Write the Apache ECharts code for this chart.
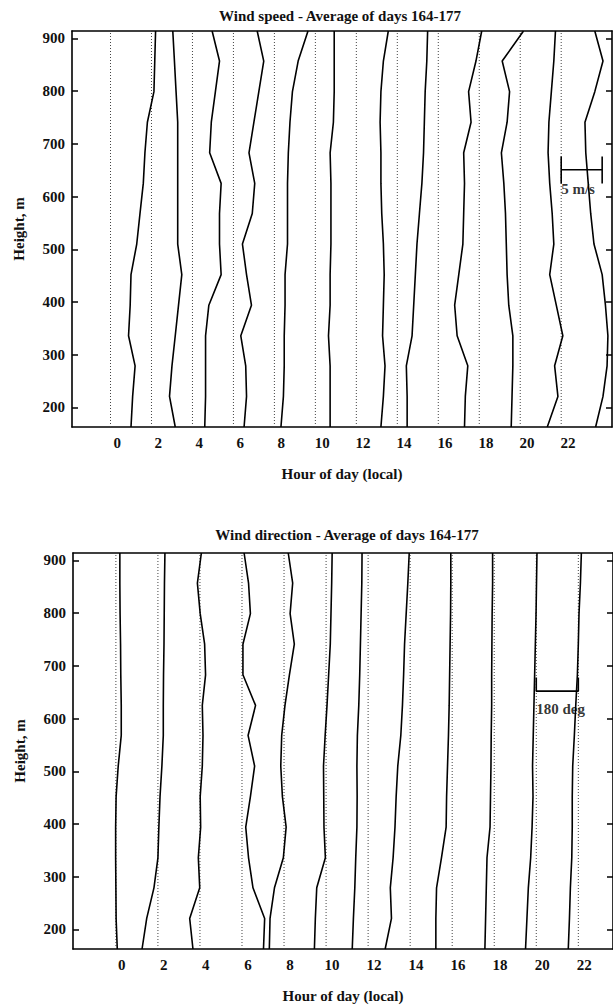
<!DOCTYPE html>
<html>
<head>
<meta charset="utf-8">
<title>Wind profiles</title>
<script src="https://cdn.jsdelivr.net/npm/echarts@6/dist/echarts.min.js"></script>
<style>
  html, body { margin: 0; padding: 0; background: #fff; }
  #chart { width: 613px; height: 1008px; }
</style>
</head>
<body>
<div id="chart"></div>
<script>
// profile levels, m (bottom to top)
var heights = [163, 221, 279, 336, 394, 452, 510, 568, 625, 683, 741, 799, 857, 914];
var hours = [0, 2, 4, 6, 8, 10, 12, 14, 16, 18, 20, 22];
var hourTicks = [0, 2, 4, 6, 8, 10, 12, 14, 16, 18, 20, 22];
var heightTicks = [200, 300, 400, 500, 600, 700, 800, 900];

// wind speed, m/s - one row per hour, values bottom to top
var speed = [
  [2.5, 2.7, 3.0, 2.2, 2.4, 2.5, 3.2, 3.6, 4.0, 4.2, 4.5, 5.3, 5.4, 5.5],
  [2.9, 2.2, 2.5, 2.9, 3.3, 3.7, 3.2, 3.2, 3.2, 3.2, 3.2, 3.0, 2.8, 2.6],
  [1.5, 1.6, 1.6, 1.6, 2.0, 3.5, 3.3, 3.3, 3.5, 2.1, 2.3, 2.8, 3.3, 2.4],
  [1.3, 1.6, 1.5, 0.9, 2.2, 1.6, 1.1, 2.3, 2.6, 1.9, 2.5, 3.1, 3.7, 2.9],
  [0.8, 1.1, 1.2, 1.2, 1.3, 1.3, 1.6, 1.6, 1.6, 1.7, 1.9, 2.2, 2.9, 4.1],
  [1.8, 1.8, 1.8, 1.6, 1.8, 1.8, 1.9, 1.9, 1.9, 1.8, 2.2, 2.3, 2.3, 2.3],
  [3.0, 3.3, 3.5, 3.2, 3.3, 3.4, 3.3, 3.1, 3.0, 3.0, 2.9, 3.0, 3.3, 3.9],
  [1.2, 1.2, 1.1, 1.8, 2.0, 2.2, 2.4, 2.7, 3.0, 3.2, 3.3, 3.4, 3.6, 3.7],
  [3.2, 3.3, 3.6, 2.3, 2.0, 2.5, 3.0, 3.1, 3.2, 3.1, 4.0, 3.7, 4.6, 5.3],
  [3.9, 4.0, 4.1, 4.1, 3.6, 3.4, 3.3, 3.2, 3.0, 2.7, 3.4, 3.7, 2.8, 5.4],
  [3.3, 4.6, 4.2, 5.2, 4.4, 3.6, 4.1, 3.9, 3.6, 3.4, 3.5, 3.8, 4.1, 4.3],
  [4.2, 5.1, 5.6, 5.7, 5.4, 5.0, 4.0, 3.6, 3.3, 3.0, 2.9, 4.1, 5.1, 4.1]
];

// wind direction departure, deg - one row per hour, values bottom to top
var direction = [
  [6, 1, 0, -1, -1, 1, 10, 23, 23, 21, 20, 18, 17, 17],
  [-68, -48, -17, 0, 4, 9, 17, 23, 23, 24, 26, 27, 28, 30],
  [-30, -44, -1, -7, 3, 1, 10, 13, 10, 24, 20, 1, -11, 6],
  [92, 97, 47, 28, 16, 36, 54, 26, 58, 4, 4, 36, 28, 9],
  [-63, -60, -41, -3, 9, -7, -14, -10, 4, 23, 44, 26, 37, 18],
  [-50, -46, -40, -3, -9, -10, -11, -4, 4, 11, 18, 21, 24, 26],
  [-68, -63, -57, -53, -48, -47, -48, -46, -40, -36, -33, -30, -27, -26],
  [-107, -80, -85, -73, -65, -60, -53, -40, -33, -28, -24, -17, -10, -4],
  [-70, -70, -67, -46, -26, -24, -20, -16, -13, -11, -9, -7, -6, -6],
  [-40, -37, -34, -31, -18, -16, -14, -13, -11, -11, -10, -9, -7, -7],
  [-46, -40, -34, -24, -18, -14, -16, -13, -10, -7, -4, -1, 1, 3],
  [-43, -38, -34, -28, -26, -26, -24, -17, -11, -4, 0, 3, 9, 13]
];

var speedBar = 5;     // m/s shown by the scale bar
var dirBar = 180;     // deg shown by the scale bar
var hoursPerSpeed = 2 / 5;    // 5 m/s spans two hours
var hoursPerDeg = 2 / 180;    // 180 deg spans two hours
var shiftTop = -0.33;
var shiftBot = -0.28;
var xRangeTop = [-2.21, 24.15];
var xRangeBot = [-2.32, 23.37];
var yRange = [163, 914];

var font = 'Liberation Serif, Times New Roman, serif';
var txt = { fontFamily: font, fontSize: 15, fontWeight: 'bold', color: '#111' };
var frameLine = { show: true, onZero: false, lineStyle: { color: '#000', width: 1.6 } };

var chart = echarts.init(document.getElementById('chart'), null, { renderer: 'svg' });

var series = [];

function addPanel(rows, scale, shift, idx)
{
  for (var i = 0; i < hours.length; i++) {
    var base = hours[i] + shift;
    // dotted baseline for the hour
    series.push({
      type: 'line', xAxisIndex: idx * 2, yAxisIndex: idx * 2,
      data: [[base, heights[0]], [base, heights[heights.length - 1]]],
      showSymbol: false, silent: true, z: 1,
      lineStyle: { color: '#444', width: 1, type: [1, 2] }
    });
    var pts = [];
    for (var k = 0; k < heights.length; k++) {
      pts.push([base + rows[i][k] * scale, heights[k]]);
    }
    series.push({
      type: 'line', xAxisIndex: idx * 2, yAxisIndex: idx * 2,
      data: pts, showSymbol: false, silent: true, z: 3,
      lineStyle: { color: '#000', width: 1.6 }
    });
  }
}

addPanel(speed, hoursPerSpeed, shiftTop, 0);
addPanel(direction, hoursPerDeg, shiftBot, 1);

// scale bars
var b22 = 22 + shiftTop;
var w1 = speedBar * hoursPerSpeed;
series.push({
  type: 'line', xAxisIndex: 0, yAxisIndex: 0, showSymbol: false, silent: true, z: 4,
  data: [[b22, 625], [b22, 676], [b22, 651], [b22 + w1, 651], [b22 + w1, 676], [b22 + w1, 625]],
  lineStyle: { color: '#000', width: 1.6 }
});
series.push({
  type: 'scatter', xAxisIndex: 0, yAxisIndex: 0, symbolSize: 0, silent: true, z: 5,
  data: [[b22, 614]],
  label: { show: true, position: [0, 0], align: 'left', verticalAlign: 'middle',
           formatter: speedBar + ' m/s', fontFamily: font, fontSize: 15, fontWeight: 'bold', color: '#000' }
});

var b20 = 20 + shiftBot;
var w2 = dirBar * hoursPerDeg;
series.push({
  type: 'line', xAxisIndex: 2, yAxisIndex: 2, showSymbol: false, silent: true, z: 4,
  data: [[b20, 678], [b20, 652], [b20 + w2, 652], [b20 + w2, 678]],
  lineStyle: { color: '#000', width: 1.6 }
});
series.push({
  type: 'scatter', xAxisIndex: 2, yAxisIndex: 2, symbolSize: 0, silent: true, z: 5,
  data: [[b20, 618]],
  label: { show: true, position: [0, 0], align: 'left', verticalAlign: 'middle',
           formatter: dirBar + ' deg', fontFamily: font, fontSize: 15, fontWeight: 'bold', color: '#000' }
});

function xAxisFor(grid, range)
{
  return [{
    gridIndex: grid, type: 'value', min: range[0], max: range[1], position: 'bottom',
    axisLine: frameLine, axisTick: { show: false }, splitLine: { show: false },
    axisLabel: Object.assign({ customValues: hourTicks, margin: 8 }, txt),
    name: 'Hour of day (local)', nameLocation: 'middle', nameGap: 39,
    nameTextStyle: txt
  }, {
    gridIndex: grid, type: 'value', min: range[0], max: range[1], position: 'top',
    axisLine: frameLine, axisTick: { show: false }, axisLabel: { show: false }, splitLine: { show: false }
  }];
}

function yAxisFor(grid)
{
  return [{
    gridIndex: grid, type: 'value', min: yRange[0], max: yRange[1], position: 'left',
    axisLine: frameLine, splitLine: { show: false },
    axisTick: { show: true, inside: true, length: 6, customValues: heightTicks, lineStyle: { color: '#000', width: 1.5 } },
    axisLabel: Object.assign({ customValues: heightTicks, margin: 7 }, txt),
    name: 'Height, m', nameLocation: 'middle', nameGap: 46, nameRotate: 90,
    nameTextStyle: txt
  }, {
    gridIndex: grid, type: 'value', min: yRange[0], max: yRange[1], position: 'right',
    axisLine: frameLine, splitLine: { show: false },
    axisTick: { show: true, inside: true, length: 6, customValues: heightTicks, lineStyle: { color: '#000', width: 1.5 } },
    axisLabel: { show: false }
  }];
}

var option = {
  backgroundColor: '#fff',
  animation: false,
  grid: [
    { left: 72, top: 31, width: 540, height: 396 },
    { left: 73, top: 553, width: 542, height: 396 }
  ],
  xAxis: xAxisFor(0, xRangeTop).concat(xAxisFor(1, xRangeBot)),
  yAxis: yAxisFor(0).concat(yAxisFor(1)),
  graphic: [
    { type: 'text', x: 340, y: 16, silent: true,
      style: { text: 'Wind speed - Average of days 164-177', align: 'center', verticalAlign: 'middle',
               font: 'bold 15px ' + font, fill: '#111' } },
    { type: 'text', x: 347, y: 535, silent: true,
      style: { text: 'Wind direction - Average of days 164-177', align: 'center', verticalAlign: 'middle',
               font: 'bold 15px ' + font, fill: '#111' } }
  ],
  series: series
};

chart.setOption(option);
</script>
</body>
</html>
